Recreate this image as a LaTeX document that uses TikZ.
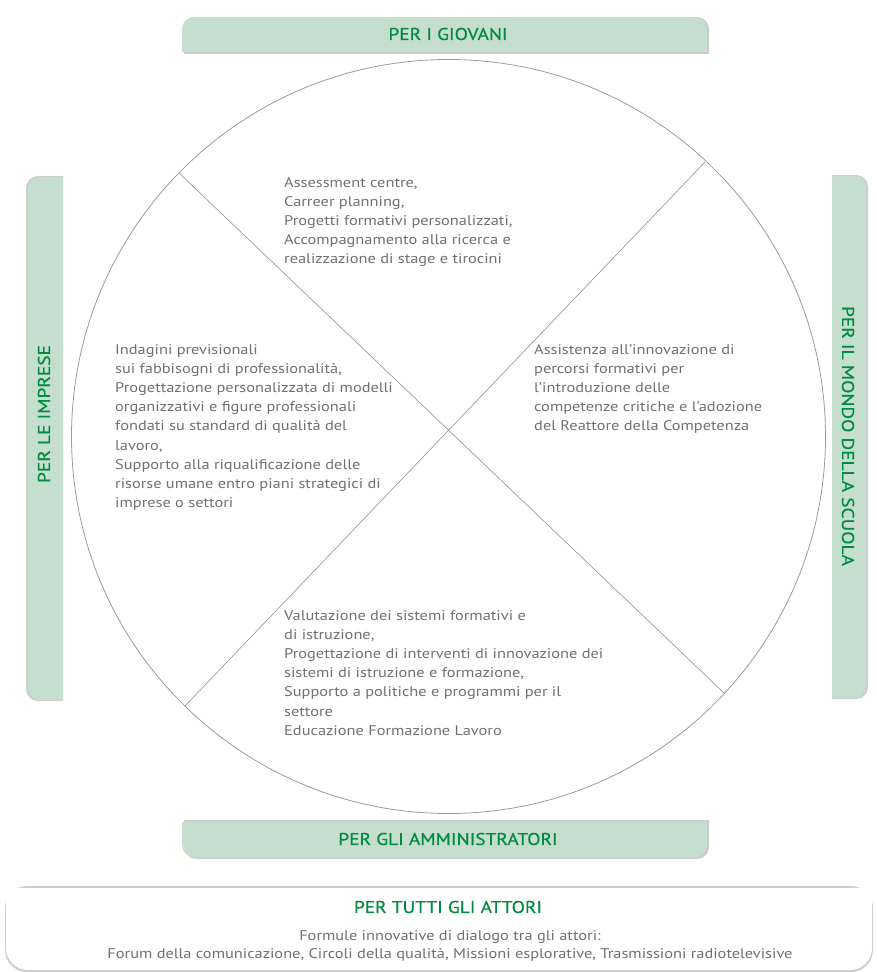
\documentclass[tikz,border=0pt]{standalone}
\usepackage{fontspec}
\setmainfont{PT Sans}
\newfontfamily\bodyfont[FakeStretch=1.17]{PT Sans}
\newfontfamily\labelfont[FakeStretch=1.14,FakeBold=0.6]{PT Sans}
\definecolor{bannerfill}{RGB}{197,222,205}
\definecolor{labelgreen}{RGB}{0,140,62}
\definecolor{bodygray}{RGB}{112,112,112}
\definecolor{linegray}{RGB}{155,155,155}
\definecolor{shadowgray}{RGB}{205,205,205}
\tikzset{
  bodytext/.style={anchor=north west, inner sep=0pt, align=left, text=bodygray,
    font=\bodyfont\fontsize{14}{19.2}\selectfont},
  labeltext/.style={inner sep=0pt, text=labelgreen, font=\labelfont\fontsize{17}{19}\selectfont},
  divider/.style={draw=linegray, line width=0.7pt},
}
\begin{document}
\begin{tikzpicture}[x=1pt,y=-1pt]
\useasboundingbox (0,0) rectangle (877,972);
% top banner
\begin{scope}
  \clip (182,15) rectangle (710,53);
  \fill[shadowgray, rounded corners=12pt] (184,17) rectangle (709,80);
\end{scope}
\begin{scope}
  \clip (182,17) rectangle (707,51);
  \fill[bannerfill, rounded corners=12pt] (182,17) rectangle (707,80);
\end{scope}
\node[labeltext] (giovani) at (448,34) {PER I GIOVANI};
% bottom banner
\begin{scope}
  \clip (182,820) rectangle (710,859);
  \fill[shadowgray, rounded corners=12pt] (184,790) rectangle (709,859);
\end{scope}
\begin{scope}
  \clip (182,822) rectangle (707,857);
  \fill[bannerfill, rounded corners=12pt] (182,790) rectangle (707,857);
\end{scope}
\node[labeltext] (amministratori) at (448,839) {PER GLI AMMINISTRATORI};
% left banner
\begin{scope}
  \clip (25,175) rectangle (63,702);
  \fill[shadowgray, rounded corners=12pt] (26,176) rectangle (90,701);
\end{scope}
\begin{scope}
  \clip (28,177) rectangle (63,700);
  \fill[bannerfill, rounded corners=12pt] (28,177) rectangle (90,700);
\end{scope}
\node[labeltext, rotate=90] (imprese) at (44,414) {PER LE IMPRESE};
% right banner
\begin{scope}
  \clip (832,174) rectangle (869,700);
  \fill[shadowgray, rounded corners=12pt] (800,175) rectangle (868,699);
\end{scope}
\begin{scope}
  \clip (832,176) rectangle (866,698);
  \fill[bannerfill, rounded corners=12pt] (800,176) rectangle (866,698);
\end{scope}
\node[labeltext, rotate=-90] (scuola) at (848,436) {PER IL MONDO DELLA SCUOLA};
% circle and dividers
\draw[linegray, line width=0.8pt] (448.5,436.5) circle (377pt);
\coordinate (d1a) at (179,173);
\coordinate (d1b) at (724,693);
\coordinate (d2a) at (705,162);
\coordinate (d2b) at (185,706);
\draw[divider] (d1a) -- (d1b);
\draw[divider] (d2a) -- (d2b);
% quadrant texts
\node[bodytext] (top) at (284,177) {Assessment centre,\\Carreer planning,\\Progetti formativi personalizzati,\\Accompagnamento alla ricerca e\\realizzazione di stage e tirocini};
\node[bodytext] (left) at (115,344) {Indagini previsionali\\sui fabbisogni di professionalità,\\Progettazione personalizzata di modelli\\organizzativi e figure professionali\\fondati su standard di qualità del\\lavoro,\\Supporto alla riqualificazione delle\\risorse umane entro piani strategici di\\imprese o settori};
\node[bodytext] (right) at (534,344) {Assistenza all’innovazione di\\percorsi formativi per\\l’introduzione delle\\competenze critiche e l’adozione\\del Reattore della Competenza};
\node[bodytext] (bottom) at (284,610) {Valutazione dei sistemi formativi e\\di istruzione,\\Progettazione di interventi di innovazione dei\\sistemi di istruzione e formazione,\\Supporto a politiche e programmi per il\\settore\\Educazione Formazione Lavoro};
% bottom box
\fill[shadowgray, rounded corners=22pt] (5,886) -- (873,886) -- (873,972) -- (5,972) -- cycle;
\begin{scope}
  \clip (0,886) rectangle (877,972);
  \fill[white, rounded corners=22pt] (6,888) -- (872,888) -- (872,970) -- (6,970) -- cycle;
  \fill[white] (6,888) rectangle (872,920);
\end{scope}
\node[labeltext] (tutti) at (448,907) {PER TUTTI GLI ATTORI};
\node[inner sep=0pt, align=center, text=bodygray, font=\bodyfont\fontsize{14}{18.5}\selectfont] (tuttitext) at (450,946) {Formule innovative di dialogo tra gli attori:\\Forum della comunicazione, Circoli della qualità, Missioni esplorative, Trasmissioni radiotelevisive};
\end{tikzpicture}
\end{document}
